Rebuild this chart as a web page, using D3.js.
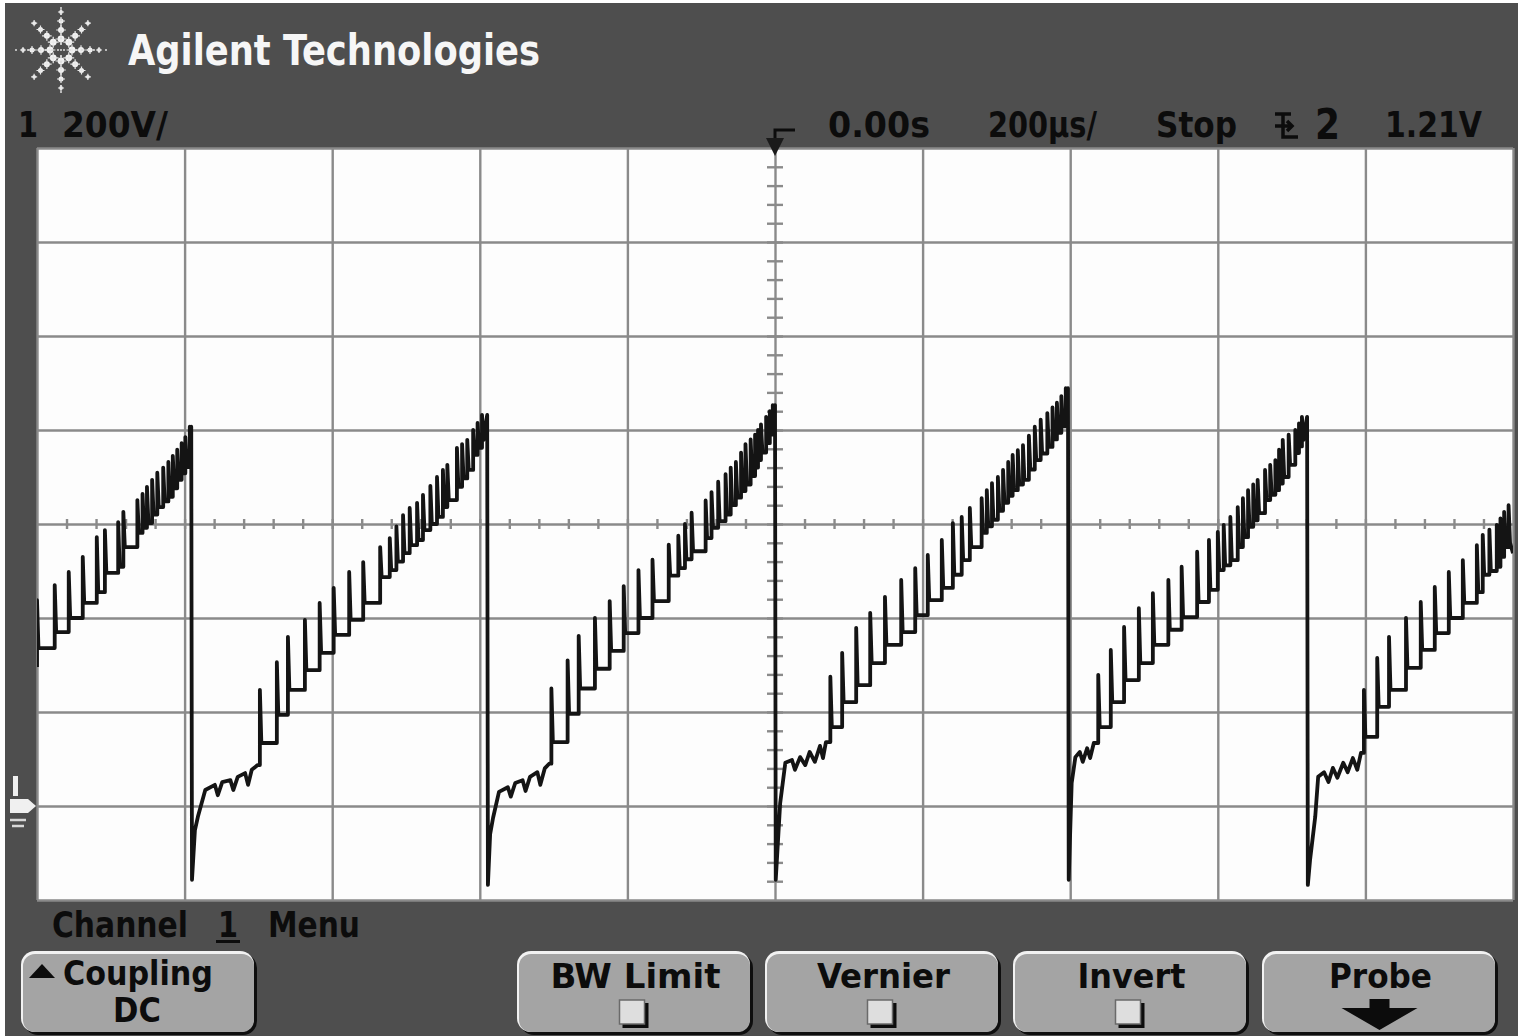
<!DOCTYPE html>
<html lang="en">
<head>
<meta charset="utf-8">
<title>Oscilloscope capture</title>
<script src="https://cdn.jsdelivr.net/npm/d3@7"></script>
<style>
  body { margin: 0; background: #fff; }
  text { font-family: "DejaVu Sans Condensed", "Liberation Sans Narrow", "DejaVu Sans", sans-serif; font-weight: bold; }
</style>
</head>
<body>
<script>

// ---------------- data (time in µs, voltage in V) ----------------
var timeRange = [-1000, 1000];      // 200 µs/div, 10 div
var voltRange = [-200, 1400];       // 200 V/div, 8 div, ground 1 div above bottom

// lead-in of each ramp: [t, V] vertices (drop from previous peak, reset, shelf)
// teeth: [t, spike top V, foot V after spike]
var ramp1Lead = [[-1000, 296], [-1000, 438], [-998, 336]];
var ramp1Teeth = [
  [-976, 470, 370], [-957, 498, 400], [-938, 530, 432], [-919, 572, 455],
  [-908, 587, 496], [-890, 604, 509], [-883, 626, 551], [-864, 651, 581],
  [-857, 664, 592], [-851, 679, 602], [-844, 694, 620], [-837, 709, 636],
  [-829, 720, 648], [-822, 732, 658], [-816, 745, 676], [-810, 758, 694],
  [-804, 772, 708], [-799, 785, 721], [-793, 807, 760]
];

var ramp2Lead = [
  [-791, 807], [-790, -157], [-786, -51], [-782, -23], [-772, 34], [-759, 45],
  [-755, 23], [-749, 51], [-738, 55], [-734, 34], [-728, 62], [-718, 70],
  [-714, 45], [-709, 77], [-701, 87]
];
var ramp2Teeth = [
  [-698, 247, 134], [-675, 306, 194], [-660, 360, 247], [-637, 396, 289],
  [-617, 432, 326], [-598, 464, 364], [-577, 498, 396], [-558, 519, 432],
  [-535, 551, 487], [-522, 570, 502], [-513, 595, 520], [-504, 619, 538],
  [-495, 634, 555], [-485, 645, 566], [-477, 662, 587], [-467, 681, 600],
  [-458, 700, 615], [-450, 715, 636], [-444, 726, 651], [-431, 762, 679],
  [-424, 770, 697], [-417, 779, 715], [-409, 800, 747], [-403, 815, 762],
  [-397, 832, 779]
];

var ramp3Lead = [
  [-390, 832], [-389, -168], [-386, -60], [-382, -25], [-374, 30], [-362, 40],
  [-358, 20], [-352, 49], [-342, 55], [-338, 32], [-332, 62], [-322, 72],
  [-318, 45], [-312, 80], [-306, 90]
];
var ramp3Teeth = [
  [-303, 250, 136], [-281, 310, 196], [-266, 362, 250], [-244, 400, 292],
  [-224, 436, 330], [-205, 468, 368], [-185, 502, 400], [-166, 524, 436],
  [-144, 556, 490], [-131, 575, 506], [-122, 600, 525], [-113, 624, 542],
  [-94, 650, 570], [-86, 668, 592], [-77, 690, 606], [-67, 706, 620],
  [-60, 720, 640], [-53, 732, 656], [-46, 752, 670], [-40, 770, 684],
  [-33, 780, 702], [-27, 790, 720], [-23, 800, 736], [-19, 812, 752],
  [-12, 828, 772], [-7, 840, 790], [-3, 853, 800]
];

var ramp4Lead = [
  [0, 853], [1, -157], [7, 6], [14, 92], [23, 98], [27, 77], [34, 104],
  [41, 87], [47, 115], [54, 94], [61, 128], [65, 102], [69, 136]
];
var ramp4Teeth = [
  [75, 275, 168], [91, 326, 221], [110, 379, 257], [129, 411, 304],
  [149, 445, 343], [171, 481, 370], [190, 506, 406], [207, 534, 438],
  [226, 566, 464], [241, 602, 492], [253, 615, 523], [264, 634, 551],
  [280, 655, 581], [287, 672, 595], [294, 687, 609], [302, 700, 628],
  [309, 715, 645], [316, 732, 660], [322, 747, 672], [329, 757, 684],
  [336, 768, 694], [344, 788, 716], [352, 807, 736], [360, 822, 750],
  [369, 836, 764], [376, 848, 780], [382, 858, 794], [388, 872, 808],
  [394, 889, 821]
];

var ramp5Lead = [
  [397, 889], [398, -157], [402, 49], [407, 104], [413, 115], [417, 94],
  [423, 123], [427, 102], [432, 134]
];
var ramp5Teeth = [
  [438, 279, 168], [455, 332, 221], [473, 381, 268], [493, 421, 304],
  [512, 453, 343], [533, 481, 375], [551, 509, 402], [572, 541, 434],
  [588, 566, 460], [600, 583, 502], [608, 598, 512], [617, 615, 523],
  [627, 636, 551], [634, 655, 572], [641, 672, 594], [648, 684, 608],
  [654, 694, 623], [664, 715, 651], [671, 726, 662], [678, 736, 672],
  [683, 758, 686], [688, 779, 700], [696, 790, 726], [705, 800, 751],
  [710, 814, 765], [714, 828, 779]
];

var ramp6Lead = [
  [721, 828], [722, -168], [725, -115], [732, -23], [736, 62], [744, 72],
  [750, 51], [756, 81], [762, 60], [770, 92], [776, 72], [783, 102],
  [789, 77], [794, 113]
];
var ramp6Teeth = [
  [798, 247, 147], [816, 315, 211], [832, 360, 247], [855, 400, 294],
  [875, 434, 332], [894, 466, 368], [913, 498, 400], [932, 523, 432],
  [951, 555, 455], [959, 577, 492], [968, 588, 500], [978, 598, 509],
  [983, 612, 530], [988, 626, 551], [994, 640, 560]
];
var traceEnd = [[1000, 538]];

var titleText = "Agilent Technologies";
var statusLabels = ["1", "200V/", "0.00s", "200µs/", "Stop", "2", "1.21V"];
var menuTitle = ["Channel", "1", "Menu"];
var buttonLabels = ["Coupling", "BW  Limit", "Vernier", "Invert", "Probe"];

// ---------------- layout ----------------
var W = 1526, H = 1036;
var scr = {x0: 37, x1: 1513, y0: 148, y1: 900};

var svg = d3.select("body").append("svg")
  .attr("width", W).attr("height", H);

svg.append("rect").attr("width", W).attr("height", H).attr("fill", "#fff");
svg.append("rect")
  .attr("x", 5).attr("y", 3).attr("width", 1513).attr("height", H - 3)
  .attr("fill", "#4e4e4e");

var xScale = d3.scaleLinear().domain(timeRange).range([scr.x0, scr.x1]);
var yScale = d3.scaleLinear().domain(voltRange).range([scr.y1, scr.y0]);

// screen
svg.append("rect")
  .attr("x", scr.x0).attr("y", scr.y0)
  .attr("width", scr.x1 - scr.x0).attr("height", scr.y1 - scr.y0)
  .attr("fill", "#fdfdfd");

var gridColor = "#8a8a8a";

// grid lines
var xGrid = svg.append("g")
  .attr("transform", "translate(0," + scr.y1 + ")")
  .call(d3.axisBottom(xScale)
    .tickValues(d3.range(-1000, 1001, 200))
    .tickSize(-(scr.y1 - scr.y0))
    .tickFormat(""));
var yGrid = svg.append("g")
  .attr("transform", "translate(" + scr.x0 + ",0)")
  .call(d3.axisLeft(yScale)
    .tickValues(d3.range(-200, 1401, 200))
    .tickSize(-(scr.x1 - scr.x0))
    .tickFormat(""));
[xGrid, yGrid].forEach(function(g) {
  g.select(".domain").remove();
  g.selectAll("line").attr("stroke", gridColor).attr("stroke-width", 2.4);
});

// centre axes minor ticks
var xMinor = svg.append("g")
  .attr("transform", "translate(0," + (yScale(600) - 5) + ")")
  .call(d3.axisBottom(xScale).tickValues(d3.range(-960, 1000, 40)).tickSize(10).tickFormat(""));
var yMinor = svg.append("g")
  .attr("transform", "translate(" + (xScale(0) - 8) + ",0)")
  .call(d3.axisRight(yScale).tickValues(d3.range(-160, 1400, 40)).tickSize(16).tickFormat(""));
[xMinor, yMinor].forEach(function(g) {
  g.select(".domain").remove();
  g.selectAll("line").attr("stroke", gridColor).attr("stroke-width", 2.4);
});

// ---------------- trace ----------------
function rampPoints(lead, teeth) {
  var pts = lead.slice();
  var foot = lead[lead.length - 1][1];
  teeth.forEach(function(d) {
    pts.push([d[0], foot]);
    pts.push([d[0], d[1]]);
    pts.push([d[0] + 2, d[2]]);
    foot = d[2];
  });
  return pts;
}

var trace = [].concat(
  rampPoints(ramp1Lead, ramp1Teeth),
  rampPoints(ramp2Lead, ramp2Teeth),
  rampPoints(ramp3Lead, ramp3Teeth),
  rampPoints(ramp4Lead, ramp4Teeth),
  rampPoints(ramp5Lead, ramp5Teeth),
  rampPoints(ramp6Lead, ramp6Teeth),
  traceEnd
);

svg.append("clipPath").attr("id", "scr")
  .append("rect")
  .attr("x", scr.x0).attr("y", scr.y0)
  .attr("width", scr.x1 - scr.x0).attr("height", scr.y1 - scr.y0);

var line = d3.line()
  .x(function(d) { return xScale(d[0]); })
  .y(function(d) { return yScale(d[1]); });

svg.append("path")
  .datum(trace)
  .attr("clip-path", "url(#scr)")
  .attr("d", line)
  .attr("fill", "none")
  .attr("stroke", "#141414")
  .attr("stroke-width", 3.8)
  .attr("stroke-linejoin", "round");

// ---------------- header ----------------
var logo = svg.append("g").attr("transform", "translate(61,50)");
d3.range(8).forEach(function(k) {
  var a = k * Math.PI / 4;
  [[11, 3.4], [20, 3], [29, 2.5], [38, 1.9]].forEach(function(p) {
    var cx = Math.cos(a) * p[0], cy = Math.sin(a) * p[0];
    logo.append("circle").attr("cx", cx).attr("cy", cy).attr("r", p[1]).attr("fill", "#f4f4f4");
    logo.append("path")
      .attr("d", "M" + (cx - p[1] * 1.6) + "," + cy + "H" + (cx + p[1] * 1.6) +
                 "M" + cx + "," + (cy - p[1] * 1.6) + "V" + (cy + p[1] * 1.6))
      .attr("stroke", "#e8e8e8").attr("stroke-width", 1.2);
  });
});
logo.append("line").attr("x1", 0).attr("y1", -43).attr("x2", 0).attr("y2", 43)
  .attr("stroke", "#ddd").attr("stroke-width", 1.5).attr("stroke-dasharray", "2,4");
logo.append("line").attr("x1", -46).attr("y1", 0).attr("x2", 46).attr("y2", 0)
  .attr("stroke", "#ddd").attr("stroke-width", 1.5).attr("stroke-dasharray", "2,4");

svg.append("text")
  .attr("x", 128).attr("y", 65)
  .attr("font-size", 42)
  .attr("fill", "#f6f6f6")
  .attr("textLength", 412).attr("lengthAdjust", "spacingAndGlyphs")
  .text(titleText);

// status line
var statusPos = [[18, 20], [62, 106], [828, 102], [988, 109], [1156, 81], [1315, 25], [1385, 97]];
statusLabels.forEach(function(s, i) {
  svg.append("text")
    .attr("x", statusPos[i][0]).attr("y", i == 5 ? 139 : 137)
    .attr("font-size", i == 5 ? 42 : 36)
    .attr("fill", "#0c0c0c")
    .attr("textLength", statusPos[i][1]).attr("lengthAdjust", "spacingAndGlyphs")
    .text(s);
});
// trigger slope icon
svg.append("path")
  .attr("d", "M1275,114 H1291 M1283,114 V137 H1298 M1275,126 H1291 M1287,121 L1292,126 L1287,131")
  .attr("fill", "none").attr("stroke", "#0c0c0c").attr("stroke-width", 3.5);
// trigger position marker
svg.append("path")
  .attr("d", "M775,140 V130 H795")
  .attr("fill", "none").attr("stroke", "#0c0c0c").attr("stroke-width", 3);
svg.append("path")
  .attr("d", "M766,138 L784,138 L775,156 Z")
  .attr("fill", "#1a1a1a");

// ground marker
var gy = yScale(0);
svg.append("path")
  .attr("d", "M10," + (gy - 7) + " H28 L36," + gy + " L28," + (gy + 7) + " H10 Z")
  .attr("fill", "#f0f0f0");
svg.append("rect").attr("x", 13).attr("y", gy - 30).attr("width", 5).attr("height", 20).attr("fill", "#f0f0f0");
svg.append("path")
  .attr("d", "M10," + (gy + 14) + " H26 M12," + (gy + 20) + " H24")
  .attr("stroke", "#d8d8d8").attr("stroke-width", 2.5);

// ---------------- menu ----------------
var menuPos = [[52, 136], [218, 20], [268, 92]];
menuTitle.forEach(function(s, i) {
  svg.append("text")
    .attr("x", menuPos[i][0]).attr("y", 937)
    .attr("font-size", 35)
    .attr("fill", "#0c0c0c")
    .attr("textLength", menuPos[i][1]).attr("lengthAdjust", "spacingAndGlyphs")
    .text(s);
});
svg.append("rect").attr("x", 216).attr("y", 940).attr("width", 24).attr("height", 3).attr("fill", "#0c0c0c");

var buttonX = [22, 518, 766, 1014, 1263];
var bw = 233, by = 952, bh = 81;
buttonLabels.forEach(function(label, i) {
  var x = buttonX[i];
  var g = svg.append("g");
  g.append("rect").attr("x", x + 2).attr("y", by + 2).attr("width", bw).attr("height", bh)
    .attr("rx", 14).attr("fill", "#0e0e0e");
  g.append("rect").attr("x", x - 1).attr("y", by - 1).attr("width", bw).attr("height", bh)
    .attr("rx", 14).attr("fill", "#f2f2f2");
  g.append("rect").attr("x", x + 1).attr("y", by + 2).attr("width", bw - 2).attr("height", bh - 3)
    .attr("rx", 12).attr("fill", "#a4a4a4");

  var cx = x + bw / 2;
  if (i == 0) {
    g.append("path").attr("d", "M29,978 L42,964 L55,978 Z").attr("fill", "#0c0c0c");
    g.append("text").attr("x", 63).attr("y", 985).attr("font-size", 34)
      .attr("textLength", 150).attr("lengthAdjust", "spacingAndGlyphs")
      .attr("fill", "#0c0c0c").text(label);
    g.append("text").attr("x", 137).attr("y", 1022).attr("font-size", 34)
      .attr("text-anchor", "middle").attr("fill", "#0c0c0c").text("DC");
    return;
  }
  var widths = {1: 170, 2: 133, 3: 108, 4: 103};
  g.append("text").attr("x", cx - widths[i] / 2 + 1).attr("y", 988).attr("font-size", 34)
    .attr("textLength", widths[i]).attr("lengthAdjust", "spacingAndGlyphs")
    .attr("fill", "#0c0c0c").text(label);
  if (i < 4) {
    g.append("rect").attr("x", cx - 12).attr("y", 1003).attr("width", 26).attr("height", 25).attr("fill", "#0c0c0c");
    g.append("rect").attr("x", cx - 15).attr("y", 1000).attr("width", 25).attr("height", 24)
      .attr("fill", "#dedede").attr("stroke", "#6a6a6a").attr("stroke-width", 1.5);
  } else {
    g.append("path")
      .attr("d", "M" + (cx - 10) + ",999 H" + (cx + 10) + " V1008 H" + (cx + 38) +
                 " L" + cx + ",1030 L" + (cx - 38) + ",1008 H" + (cx - 10) + " Z")
      .attr("fill", "#0c0c0c");
  }
});

</script>
</body>
</html>
